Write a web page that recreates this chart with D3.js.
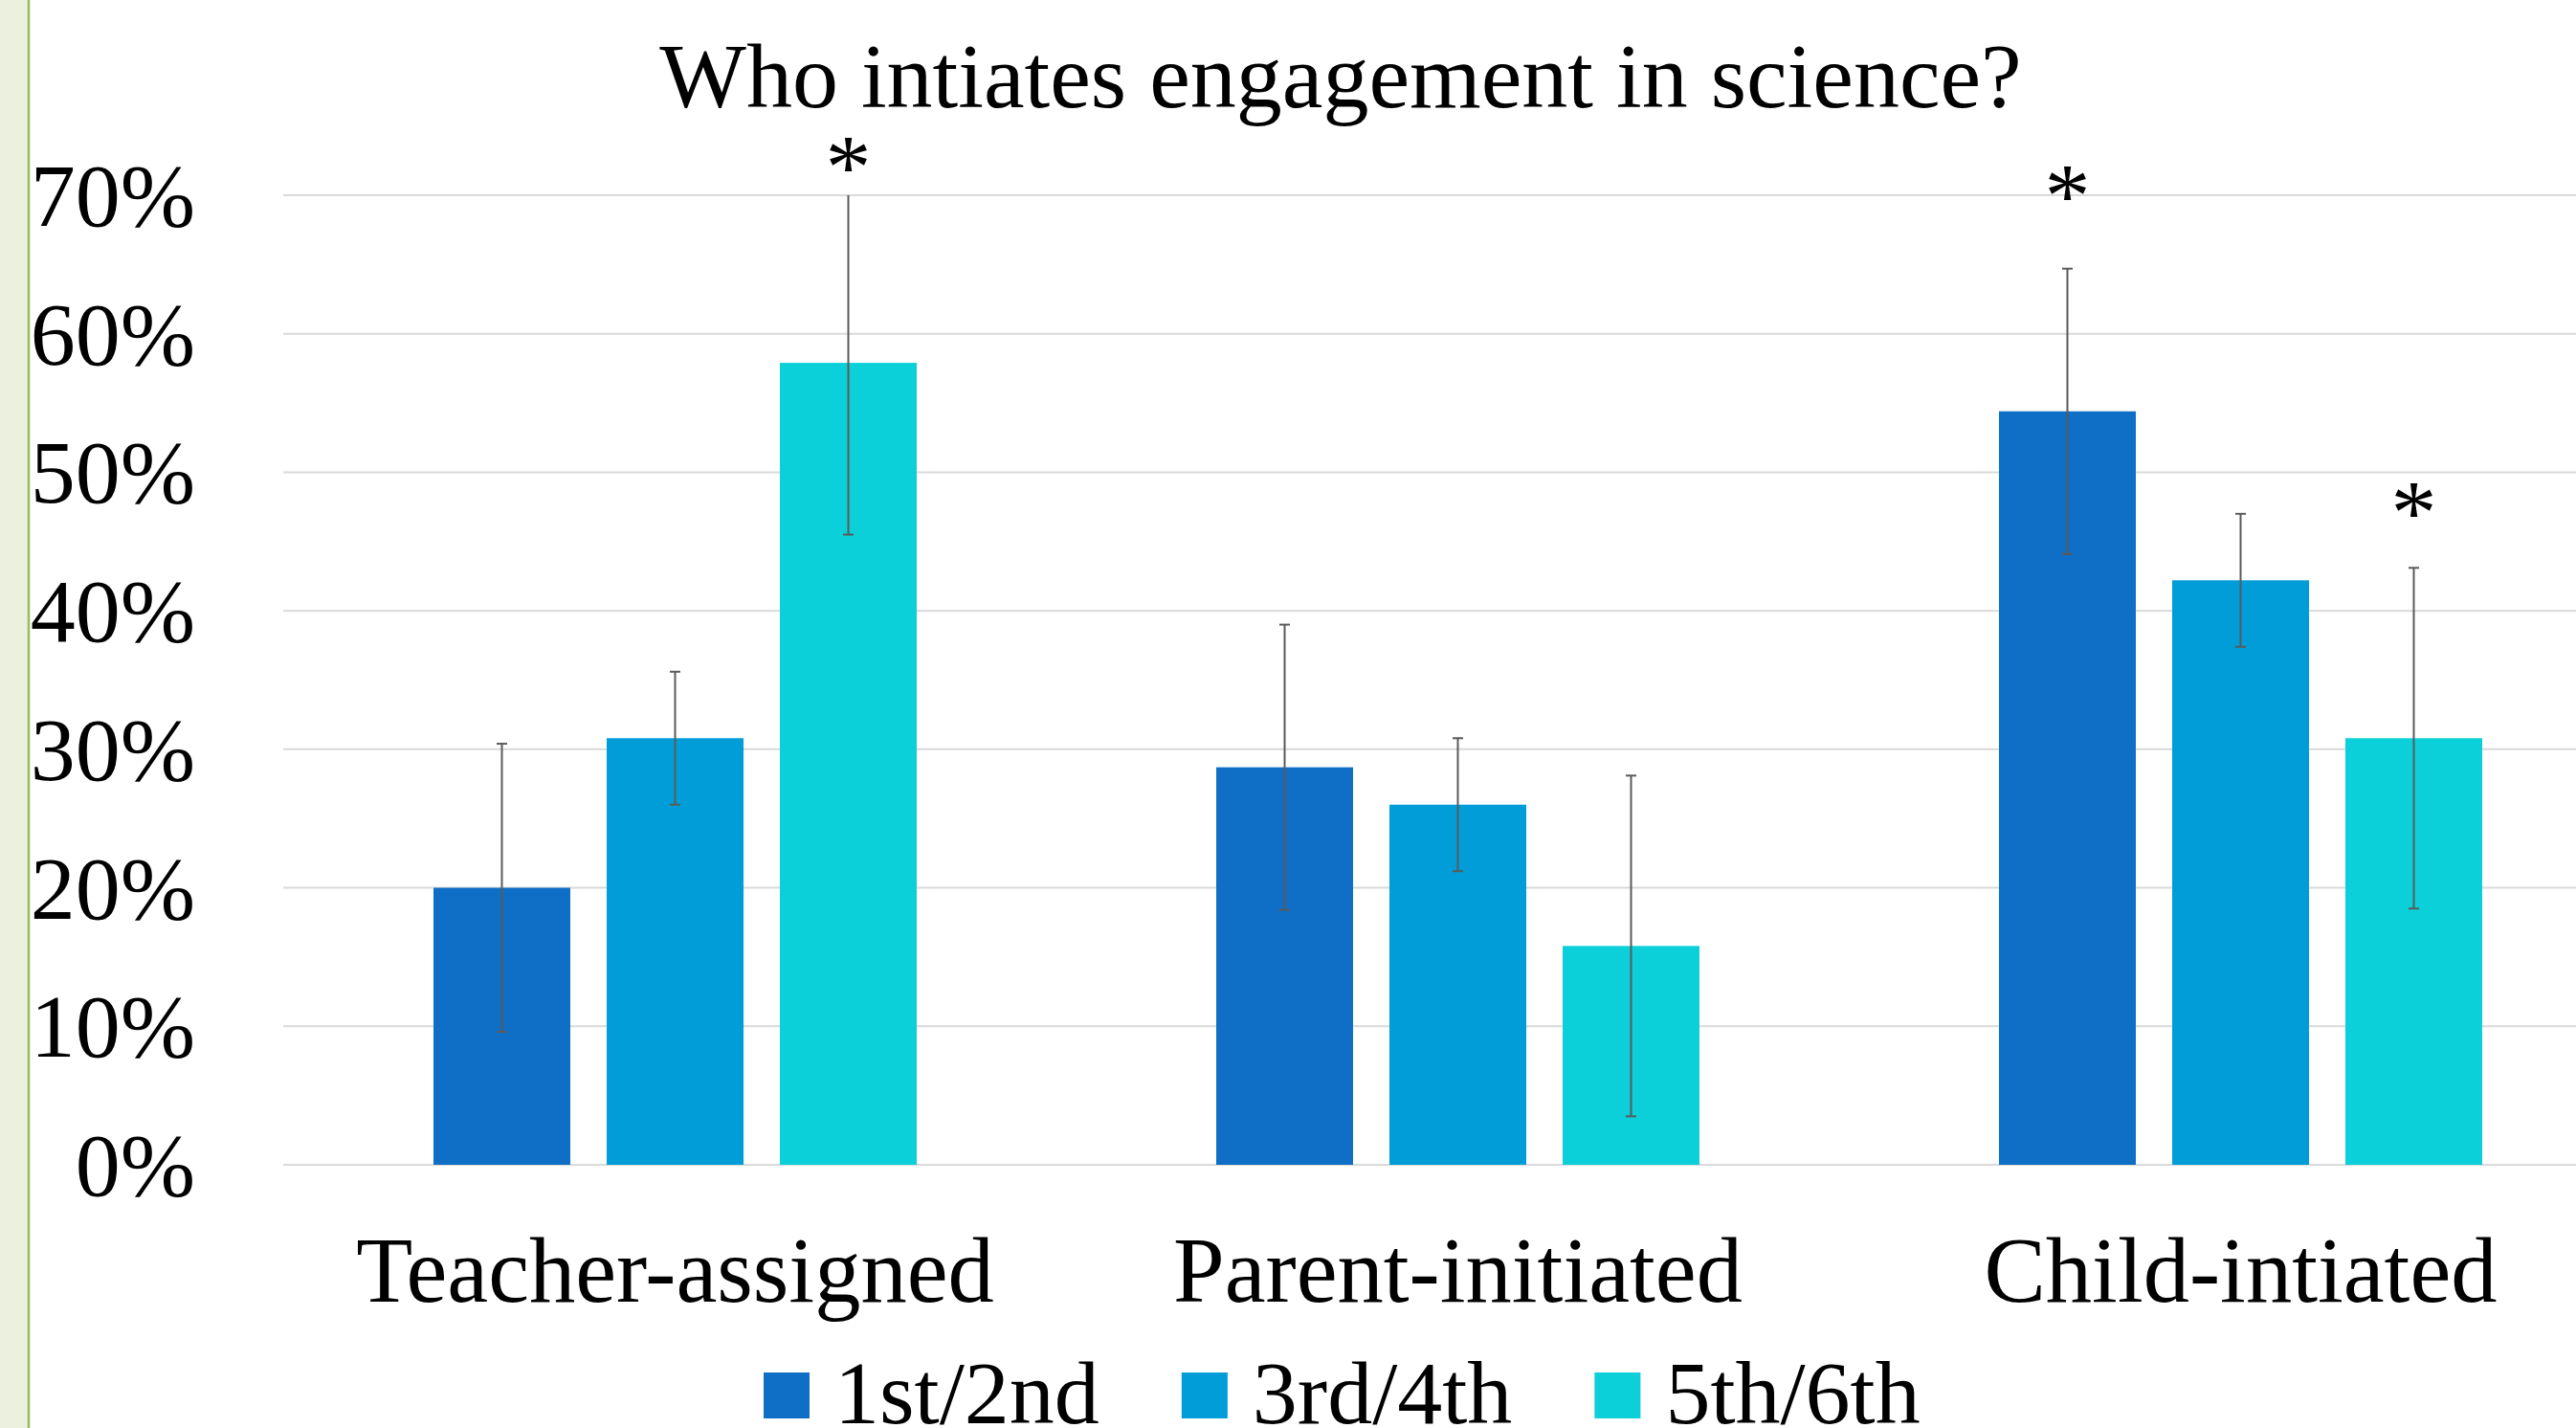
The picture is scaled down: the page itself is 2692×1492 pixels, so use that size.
<!DOCTYPE html>
<html>
<head>
<meta charset="utf-8">
<script src="https://cdn.jsdelivr.net/npm/d3@7"></script>
<style>
  html, body { margin: 0; padding: 0; background: #fff; overflow: hidden; }
  svg { display: block; font-family: "Liberation Serif", "Times New Roman", serif; }
</style>
</head>
<body>
<div id="chart"></div>
<script>
// --- data ---
const categories = ["Teacher-assigned", "Parent-initiated", "Child-intiated"];
const seriesNames = ["1st/2nd", "3rd/4th", "5th/6th"];
const seriesColors = ["#0F6FC6", "#009DD9", "#0BD0D9"];

const values1 = [0.200, 0.287, 0.544];
const values2 = [0.308, 0.260, 0.422];
const values3 = [0.579, 0.158, 0.308];

const errors1 = [0.104, 0.103, 0.103];
const errors2 = [0.048, 0.048, 0.048];
const errors3 = [0.124, 0.123, 0.123];

const yTicks = [0, 0.1, 0.2, 0.3, 0.4, 0.5, 0.6, 0.7];

// significance markers (category, series, height in axis units)
const stars = [
  { category: "Teacher-assigned", series: "5th/6th", at: 0.730 },
  { category: "Child-intiated", series: "1st/2nd", at: 0.709 },
  { category: "Child-intiated", series: "5th/6th", at: 0.480 }
];

const W = 2692, H = 1492;
const allValues = [values1, values2, values3];
const allErrors = [errors1, errors2, errors3];

const rows = [];
seriesNames.forEach((s, si) => {
  categories.forEach((c, ci) => {
    rows.push({ category: c, series: s, value: allValues[si][ci], err: allErrors[si][ci], color: seriesColors[si] });
  });
});

const svg = d3.select("#chart").append("svg")
  .attr("width", W)
  .attr("height", H);

// left decorative strip
svg.append("rect").attr("x", 0).attr("y", 0).attr("width", 30).attr("height", H).attr("fill", "#EBF1DE");
svg.append("line").attr("x1", 30).attr("x2", 30).attr("y1", 0).attr("y2", H)
  .attr("stroke", "#9BBB59").attr("stroke-width", 2.5);

// --- scales ---
const x = d3.scaleBand().domain(categories).range([296.5, 2750.5]).paddingInner(0).paddingOuter(0);
const xs = d3.scaleBand().domain(seriesNames).range([0, 505]).paddingInner(0.21).paddingOuter(0);
const y = d3.scaleLinear().domain([0, 0.7]).range([1217, 204]);
const groupOffset = (x.bandwidth() - 505) / 2;
const barX = d => x(d.category) + groupOffset + xs(d.series);

// gridlines
svg.append("g")
  .selectAll("line")
  .data(yTicks)
  .join("line")
  .attr("x1", 296).attr("x2", W)
  .attr("y1", d => y(d)).attr("y2", d => y(d))
  .attr("stroke", "#D9D9D9")
  .attr("stroke-width", 2);

// y labels
svg.append("g")
  .selectAll("text")
  .data(yTicks)
  .join("text")
  .attr("x", 204)
  .attr("y", d => y(d))
  .attr("dy", "0.34em")
  .attr("text-anchor", "end")
  .attr("font-size", 94)
  .attr("fill", "#000")
  .text(d3.format(".0%"));

// bars
svg.append("g")
  .selectAll("rect")
  .data(rows)
  .join("rect")
  .attr("x", barX)
  .attr("width", xs.bandwidth())
  .attr("y", d => y(d.value))
  .attr("height", d => y(0) - y(d.value))
  .attr("fill", d => d.color);

// error bars (clipped at axis max)
const capW = 11;
const eb = svg.append("g")
  .selectAll("g")
  .data(rows)
  .join("g")
  .attr("stroke", "#5A5A5A")
  .attr("stroke-width", 2);

eb.append("line")
  .attr("x1", d => barX(d) + xs.bandwidth() / 2)
  .attr("x2", d => barX(d) + xs.bandwidth() / 2)
  .attr("y1", d => y(Math.min(0.7, d.value + d.err)))
  .attr("y2", d => y(Math.max(0, d.value - d.err)));

eb.filter(d => d.value + d.err <= 0.7).append("line")
  .attr("x1", d => barX(d) + xs.bandwidth() / 2 - capW / 2)
  .attr("x2", d => barX(d) + xs.bandwidth() / 2 + capW / 2)
  .attr("y1", d => y(d.value + d.err))
  .attr("y2", d => y(d.value + d.err));

eb.append("line")
  .attr("x1", d => barX(d) + xs.bandwidth() / 2 - capW / 2)
  .attr("x2", d => barX(d) + xs.bandwidth() / 2 + capW / 2)
  .attr("y1", d => y(Math.max(0, d.value - d.err)))
  .attr("y2", d => y(Math.max(0, d.value - d.err)));

// asterisks
svg.append("g")
  .selectAll("text")
  .data(stars)
  .join("text")
  .attr("x", d => x(d.category) + groupOffset + xs(d.series) + xs.bandwidth() / 2)
  .attr("y", d => y(d.at))
  .attr("dy", "0.48em")
  .attr("text-anchor", "middle")
  .attr("font-size", 96)
  .text("*");

// category labels
svg.append("g")
  .selectAll("text")
  .data(categories)
  .join("text")
  .attr("x", d => x(d) + x.bandwidth() / 2)
  .attr("y", 1360)
  .attr("text-anchor", "middle")
  .attr("font-size", 96.5)
  .text(d => d);

// title
svg.append("text")
  .attr("x", 1401)
  .attr("y", 112)
  .attr("text-anchor", "middle")
  .attr("font-size", 96)
  .text("Who intiates engagement in science?");

// legend
const legend = svg.append("g");
let lx = 798;
seriesNames.forEach((s, i) => {
  legend.append("rect")
    .attr("x", lx).attr("y", 1434)
    .attr("width", 48).attr("height", 48)
    .attr("fill", seriesColors[i]);
  const t = legend.append("text")
    .attr("x", lx + 74)
    .attr("y", 1487)
    .attr("font-size", 94)
    .text(s);
  lx += 74 + t.node().getComputedTextLength() + 86;
});
</script>
</body>
</html>
